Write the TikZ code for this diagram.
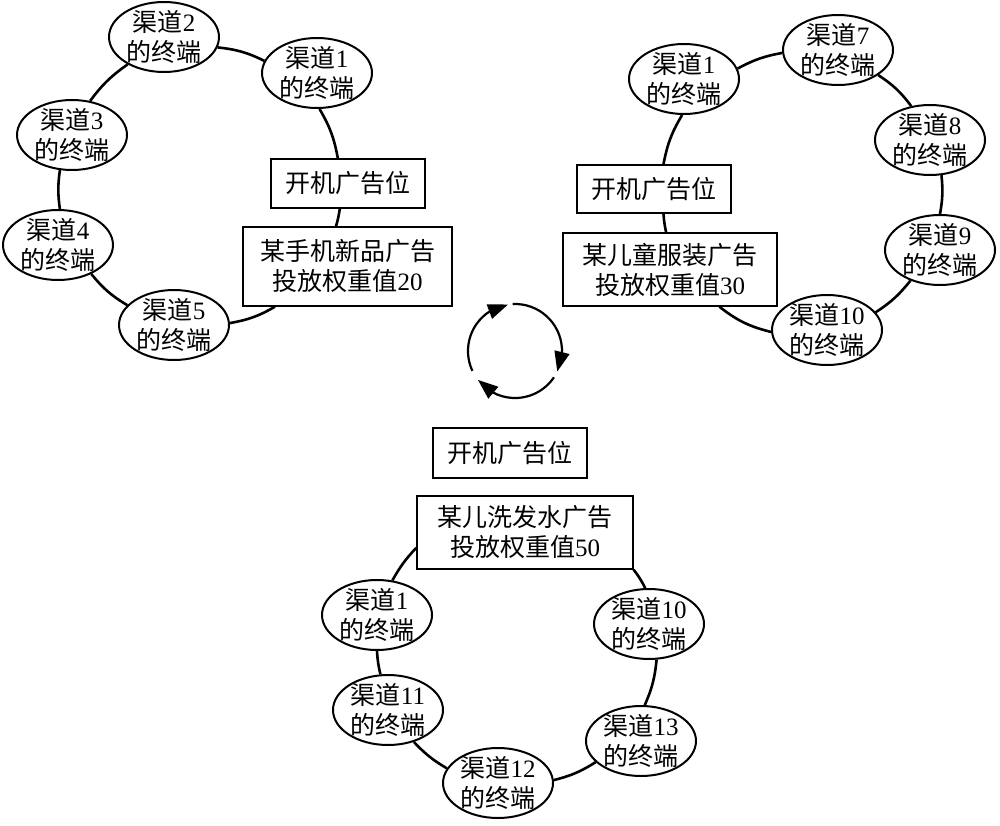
\documentclass[tikz,border=0pt]{standalone}
\usepackage{fontspec}
\setmainfont{Liberation Serif}
\newfontfamily\cjk{Noto Sans CJK SC}
\usetikzlibrary{shapes.geometric,arrows.meta,bending}
\newcommand{\zh}[1]{{\cjk #1}}
\newcommand{\qd}[1]{\zh{渠道}#1\\\zh{的终端}}
\tikzset{
  ell/.style={ellipse, draw, line width=2pt, fill=white, minimum width=110pt,
    minimum height=70pt, inner xsep=0pt, inner ysep=-8pt, align=center},
  bx/.style={rectangle, draw, line width=1.4pt, fill=white, align=center, inner sep=0pt},
  ring/.style={line width=2.6pt},
  cyc/.style={line width=2.2pt, -{Triangle[length=20pt,width=15pt]}}
}
\begin{document}
\begin{tikzpicture}[x=1pt,y=1pt,font=\fontsize{25}{30}\selectfont]
\path[fill=white,use as bounding box] (0,-826) rectangle (1000,0);

% ---------- left cluster ----------
\node[ell] (q2L) at (164,-37) {\qd{2}};
\node[ell] (q1L) at (317,-73) {\qd{1}};
\node[ell] (q3L) at (72,-135) {\qd{3}};
\node[ell] (q4L) at (58,-245) {\qd{4}};
\node[ell] (q5L) at (174,-325) {\qd{5}};
\node[bx, minimum width=154pt, minimum height=49pt] (kL) at (348,-183.5) {\zh{开机广告位}};
\node[bx, minimum width=209pt, minimum height=79pt] (aL) at (347.5,-266.5) {\zh{某手机新品广告}\\\zh{投放权重值}20};

\draw[ring] (q2L.-11) to[bend left=10] (q1L.167);
\draw[ring] (q1L.-86) to[bend left=10] (kL.112);
\draw[ring] (kL.-108) to[bend left=4] (aL.106);
\draw[ring] (aL.-151) to[bend left=10] (q5L.2);
\draw[ring] (q5L.157) to[bend left=10] (q4L.-41);
\draw[ring] (q4L.87) to[bend left=8] (q3L.-109);
\draw[ring] (q3L.62) to[bend left=9] (q2L.-143);

% ---------- right cluster ----------
\node[ell] (q1R) at (684,-79) {\qd{1}};
\node[ell] (q7) at (838,-50) {\qd{7}};
\node[ell] (q8) at (930,-140) {\qd{8}};
\node[ell] (q9) at (940,-250) {\qd{9}};
\node[ell] (q10R) at (827,-330) {\qd{10}};
\node[bx, minimum width=154pt, minimum height=48pt] (kR) at (654,-189) {\zh{开机广告位}};
\node[bx, minimum width=214pt, minimum height=73pt] (aR) at (670,-269.5) {\zh{某儿童服装广告}\\\zh{投放权重值}30};

\draw[ring] (q1R.11) to[bend left=9] (q7.-177);
\draw[ring] (q7.-32) to[bend left=10] (q8.119);
\draw[ring] (q8.-72) to[bend left=8] (q9.90);
\draw[ring] (q9.-134) to[bend left=9] (q10R.20);
\draw[ring] (q10R.182) to[bend left=12] (aR.-37);
\draw[ring] (aR.96) to[bend left=4] (kR.-69);
\draw[ring] (kR.69) to[bend left=10] (q1R.-93);

% ---------- bottom cluster ----------
\node[bx, minimum width=154pt, minimum height=50pt] (kB) at (510,-453) {\zh{开机广告位}};
\node[bx, minimum width=216pt, minimum height=73pt] (aB) at (525,-532.5) {\zh{某儿洗发水广告}\\\zh{投放权重值}50};
\node[ell] (q1B) at (377,-615) {\qd{1}};
\node[ell] (q11) at (388,-710) {\qd{11}};
\node[ell] (q12) at (498,-783) {\qd{12}};
\node[ell] (q10B) at (649,-624) {\qd{10}};
\node[ell] (q13) at (641,-741) {\qd{13}};

\draw[ring] (aB.south east) to[bend left=5] (q10B.96);
\draw[ring] (q10B.-78) to[bend left=9] (q13.84);
\draw[ring] (q13.-155) to[bend left=9] (q12.3);
\draw[ring] (q12.164) to[bend left=8] (q11.-51);
\draw[ring] (q11.102) to[bend left=5] (q1B.-90);
\draw[ring] (q1B.66) to[bend left=7] (aB.-172);

% ---------- cycle arrows ----------
\draw[cyc] ([shift={(205:47)}]515,-351) arc[start angle=205,end angle=98.5,radius=47];
\draw[cyc] ([shift={(93:47)}]515,-351) arc[start angle=93,end angle=-26,radius=47];
\draw[cyc] ([shift={(-34:47)}]515,-351) arc[start angle=-34,end angle=-142,radius=47];
\end{tikzpicture}
\end{document}
